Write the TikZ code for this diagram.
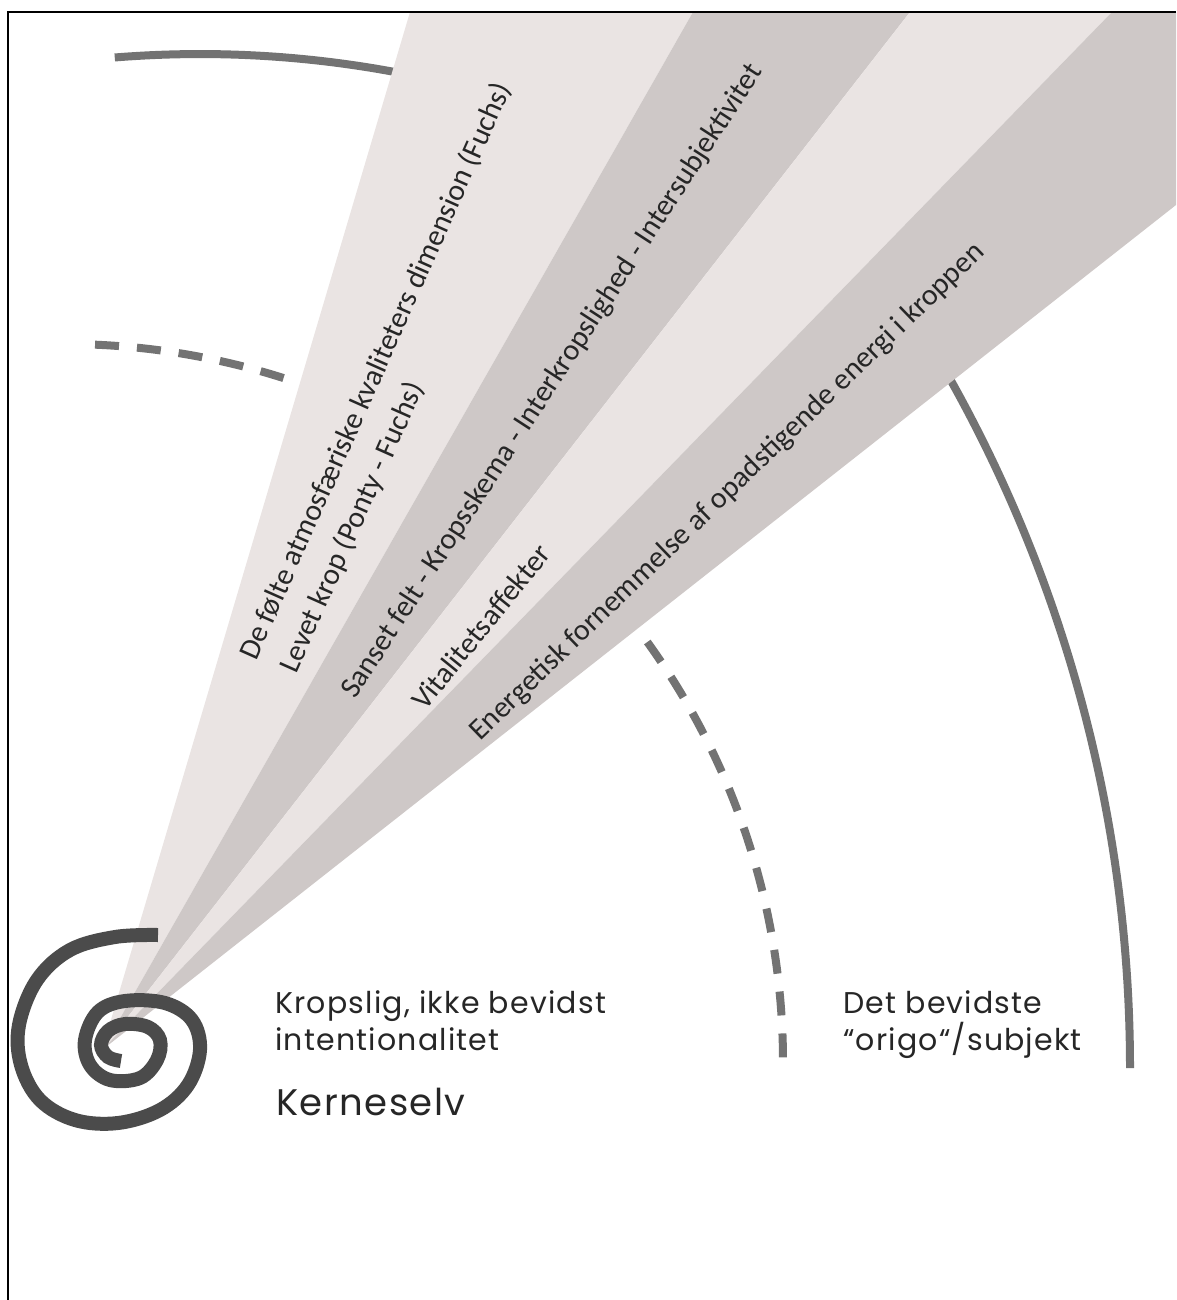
\documentclass[tikz,border=0pt]{standalone}
\usepackage{fontspec}
\setmainfont{Poppins}[LetterSpace=4]
\newfontfamily\bandfont{Carlito}
\definecolor{bandlight}{RGB}{234,228,227}
\definecolor{banddark}{RGB}{206,200,199}
\definecolor{ringgrey}{RGB}{115,115,115}
\definecolor{spiralgrey}{RGB}{75,75,75}
\definecolor{inkgrey}{RGB}{38,38,38}
\begin{document}
\begin{tikzpicture}[x=1pt,y=1pt,
  bandtext/.style={font=\bandfont\fontsize{30}{33}\selectfont, text=inkgrey, anchor=base west, inner sep=0pt},
  labeltext/.style={font=\fontsize{30}{36}\selectfont, text=inkgrey, anchor=base west, inner sep=0pt},
  ring/.style={ringgrey, line width=8pt},
  ringdash/.style={ring, dash pattern=on 24pt off 18pt}]
\useasboundingbox (0,0) rectangle (1176,-1300);
% ---- rings round the core (drawn first, the fan covers their ends) ----
\draw[ring] (200,-1117) ++(94.6:1063) arc[start angle=94.6, end angle=78, radius=1063];
\draw[ring] (-279,-1068) ++(31:1409) arc[start angle=31, end angle=0, radius=1409];
\draw[ringdash] (65,-1062) ++(87.6:718) arc[start angle=87.6, end angle=68, radius=718];
\draw[ringdash] (65,-1062) ++(35.8:718) arc[start angle=35.8, end angle=0, radius=718];
% ---- fan of bands from the core ----
\coordinate (apex) at (102,-1050);
\foreach \a/\b/\c in {410/693/bandlight, 693/910/banddark, 910/1112/bandlight}
  \fill[\c] (apex) -- (\a,-12) -- (\b,-12) -- cycle;
\fill[banddark] (apex) -- (1112,-12) -- (1176,-12) -- (1176,-205) -- cycle;
% ---- spiral ----
\draw[spiralgrey, line width=14pt] plot[smooth, tension=0.6] coordinates {
  (158,-935) (115,-937) (70,-950) (37,-980) (19,-1025) (21,-1065) (40,-1100)
  (75,-1120) (118,-1123) (160,-1110) (188,-1085) (200,-1050) (192,-1020)
  (165,-1003) (125,-1001) (98,-1012) (85,-1040) (90,-1065) (110,-1080)
  (140,-1078) (157,-1060) (160,-1040) (148,-1027) (125,-1024) (108,-1031)
  (101,-1045) (108,-1057) (121,-1061)};
% ---- frame ----
\draw[line width=2.6pt] (8,-1300) -- (8,-12) -- (1176,-12);
% ---- band labels ----
\node[bandtext, rotate=66] (felt) at (256,-662) {De følte atmosfæriske kvaliteters dimension (Fuchs)};
\node[bandtext, rotate=66] (levet) at (296,-675) {Levet krop (Ponty - Fuchs)};
\node[bandtext, rotate=57] (sanset) at (355,-700) {Sanset felt - Kropsskema - Interkropslighed - Intersubjektivitet};
\node[bandtext, rotate=51] (vital) at (425,-712) {Vitalitetsaffekter};
\node[bandtext, rotate=44] (energi) at (480,-742) {Energetisk fornemmelse af opadstigende energi i kroppen};
% ---- captions ----
\node[labeltext] (krop) at (275,-1013) {Kropslig, ikke bevidst};
\node[labeltext] (intent) at (275,-1050) {intentionalitet};
\node[labeltext, font=\fontsize{37}{40}\selectfont] (kerne) at (276,-1115) {Kerneselv};
\node[labeltext] (bevidst) at (843,-1013) {Det bevidste};
\node[labeltext] (origo) at (843,-1050) {“origo“/subjekt};
\end{tikzpicture}
\end{document}
